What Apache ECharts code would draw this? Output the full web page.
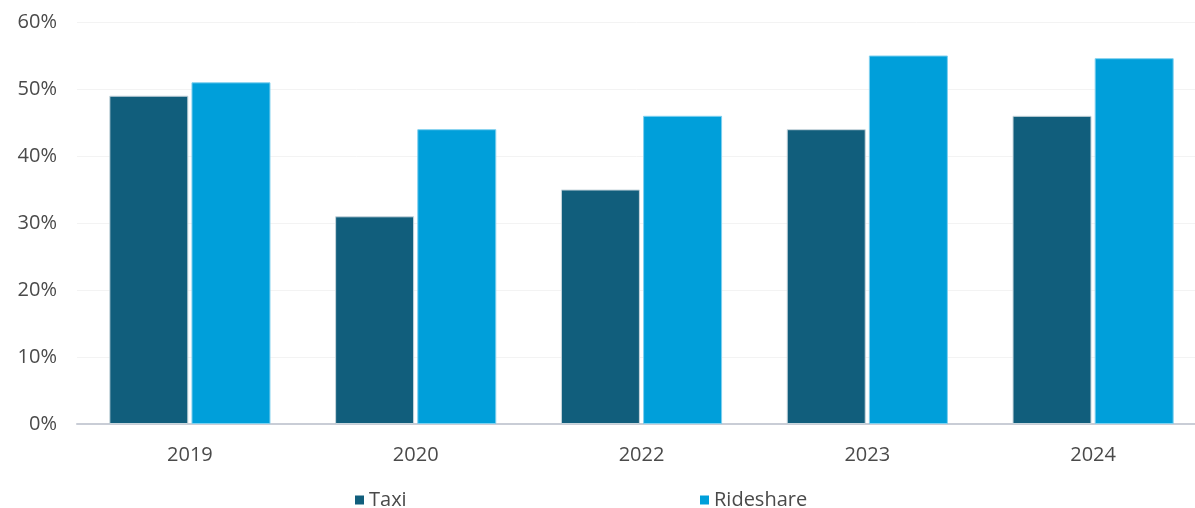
<!DOCTYPE html>
<html><head><meta charset="utf-8">
<script src="https://cdn.jsdelivr.net/npm/echarts@6/dist/echarts.min.js"></script>
<style>html,body{margin:0;padding:0;background:#fff}#c{width:1195px;height:508px}</style>
</head><body><div id="c"></div>
<script>
var categories = ['2019','2020','2022','2023','2024'];
var taxi = [49, 31, 35, 44, 46];
var rideshare = [51, 44, 46, 55, 54.6];
var yTicks = [0, 10, 20, 30, 40, 50, 60];

var chart = echarts.init(document.getElementById('c'));
var font = '"Open Sans", Lato, sans-serif';
var legendText = {fontSize: 20, color: '#4a4a4a', fontFamily: font};
chart.setOption({
  animation: false,
  textStyle: {fontFamily: font},
  grid: {left: 77, right: -11, top: 22, bottom: 84, outerBoundsMode: 'none', containLabel: false},
  legend: [
    {data: ['Taxi'], left: 350, top: 485, icon: 'rect', itemWidth: 9, itemHeight: 9, itemGap: 6, textStyle: legendText, itemStyle: {borderWidth: 0}},
    {data: ['Rideshare'], left: 695, top: 485, icon: 'rect', itemWidth: 9, itemHeight: 9, itemGap: 6, textStyle: legendText, itemStyle: {borderWidth: 0}}
  ],
  xAxis: {
    type: 'category', data: categories,
    axisLine: {lineStyle: {color: '#c9cdd6', width: 2}},
    axisTick: {show: false},
    axisLabel: {fontSize: 20, color: '#4a4a4a', margin: 21, fontFamily: font}
  },
  yAxis: {
    type: 'value', min: yTicks[0], max: yTicks[yTicks.length-1], interval: 10,
    axisLabel: {formatter: '{value}%', fontSize: 20, color: '#4a4a4a', margin: 20, fontFamily: font},
    axisLine: {show: false}, axisTick: {show: false},
    splitLine: {lineStyle: {color: '#f3f3f3', width: 1}}
  },
  series: [
    {name: 'Taxi', type: 'bar', data: taxi, barWidth: 79, barGap: '4%',
     itemStyle: {color: '#115e7c', borderColor: '#c8d6dd', borderWidth: 1}},
    {name: 'Rideshare', type: 'bar', data: rideshare, barWidth: 79,
     itemStyle: {color: '#009fda', borderColor: '#7fd0ef', borderWidth: 1}}
  ]
});
</script></body></html>
